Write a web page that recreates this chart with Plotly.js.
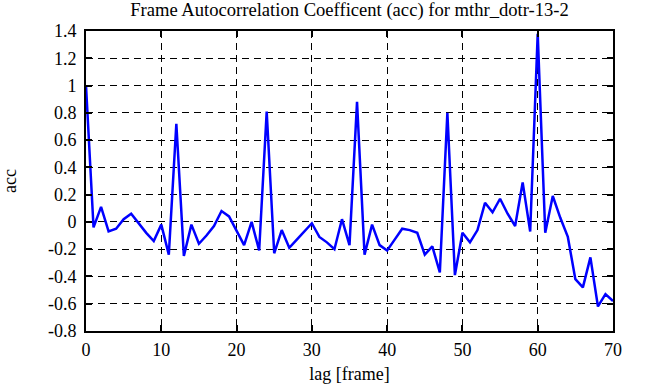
<!DOCTYPE html>
<html>
<head>
<meta charset="utf-8">
<script src="https://cdn.plot.ly/plotly-3.0.1.min.js"></script>
<style>
html,body{margin:0;padding:0;background:#fff;}
#chart{width:646px;height:387px;}
</style>
</head>
<body>
<div id="chart"></div>
<script>
const lags = [0,1,2,3,4,5,6,7,8,9,10,11,12,13,14,15,16,17,18,19,20,21,22,23,24,25,26,27,28,29,30,31,32,33,34,35,36,37,38,39,40,41,42,43,44,45,46,47,48,49,50,51,52,53,54,55,56,57,58,59,60,61,62,63,64,65,66,67,68,69,70];
const acc = [1.0,-0.04,0.11,-0.07,-0.05,0.02,0.06,-0.01,-0.08,-0.14,
  -0.02,-0.24,0.72,-0.25,-0.02,-0.16,-0.10,-0.03,0.08,0.04,
  -0.07,-0.17,0.0,-0.21,0.81,-0.23,-0.06,-0.19,-0.13,-0.07,
  -0.01,-0.11,-0.15,-0.20,0.02,-0.17,0.88,-0.24,-0.02,-0.17,
  -0.21,-0.13,-0.05,-0.06,-0.08,-0.24,-0.18,-0.37,0.80,-0.39,
  -0.08,-0.15,-0.06,0.14,0.07,0.17,0.06,-0.03,0.29,-0.07,
  1.38,-0.08,0.19,0.03,-0.11,-0.42,-0.48,-0.26,-0.62,-0.53,-0.58];
const xTicks = [0,10,20,30,40,50,60,70];
const yTicks = [-0.8,-0.6,-0.4,-0.2,0,0.2,0.4,0.6,0.8,1,1.2,1.4];
const yTickText = ['-0.8','-0.6','-0.4','-0.2','0','0.2','0.4','0.6','0.8','1','1.2','1.4'];

const FAMILY = 'Liberation Serif, Times New Roman, serif';
function mkFont(sz) { return {family: FAMILY, size: sz || 18, color: '#000'}; }

const trace = {
  x: lags, y: acc, type: 'scatter', mode: 'lines',
  line: {color: '#0000ff', width: 2.5},
  hoverinfo: 'skip'
};

function axisCommon() {
  return {
    showline: true, mirror: 'ticks', linecolor: '#000', linewidth: 2,
    ticks: 'inside', ticklen: 6, tickwidth: 2, tickcolor: '#000',
    showgrid: true, gridcolor: '#000', gridwidth: 1, griddash: '7px,5px',
    zeroline: false, tickfont: mkFont(18)
  };
}

const layout = {
  width: 646, height: 387,
  margin: {l: 86, r: 33, t: 31, b: 56},
  paper_bgcolor: '#fff', plot_bgcolor: '#fff',
  font: mkFont(18),
  showlegend: false,
  title: {text: 'Frame Autocorrelation Coefficent (acc) for mthr_dotr-13-2', font: mkFont(18.6),
          xref: 'paper', x: 0.5, xanchor: 'center', yref: 'container', y: 0.975, yanchor: 'middle'},
  xaxis: Object.assign(axisCommon(), {
    range: [0, 70], tickvals: xTicks, ticktext: xTicks.map(String),
    ticklabelstandoff: 1,
    title: {text: 'lag [frame]', font: mkFont(18), standoff: 9}
  }),
  yaxis: Object.assign(axisCommon(), {
    range: [-0.8, 1.4], tickvals: yTicks, ticktext: yTickText,
    ticklabelstandoff: 4,
    title: {text: 'acc', font: mkFont(18), standoff: 30}
  })
};

Plotly.newPlot('chart', [trace], layout, {staticPlot: true, displayModeBar: false});
</script>
</body>
</html>
